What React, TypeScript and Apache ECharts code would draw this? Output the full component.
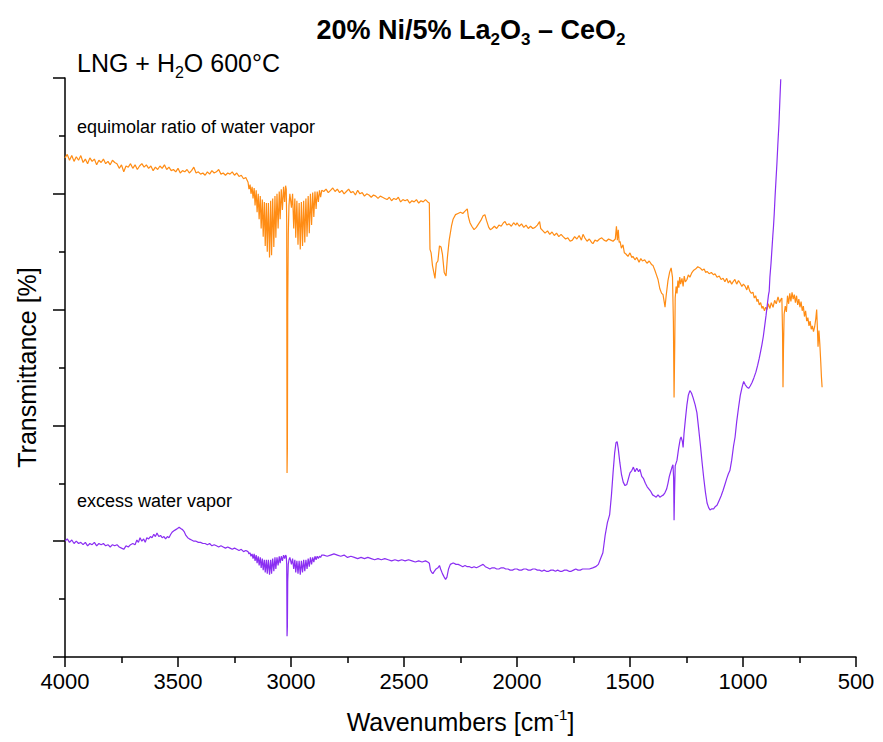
import React, { useEffect, useRef } from "react";
import * as echarts from "echarts";

const FONT = "'Liberation Sans', Arial, Helvetica, sans-serif";

const titleParts = { a: "20% Ni/5% La", b: "2", c: "O", d: "3", e: " – CeO", f: "2" };
const conditionText = { a: "LNG + H", b: "2", c: "O 600°C" };
const equimolarLabel = "equimolar ratio of water vapor";
const excessLabel = "excess water vapor";
const xAxisTitle = { a: "Wavenumbers [cm", sup: "-1", b: "]" };
const yAxisTitle = "Transmittance [%]";

const xMin = 500;
const xMax = 4000;
const xStep = 500;
const yMin = 0;
const yMax = 50;
const yStep = 10;

// [wavenumber cm-1, transmittance (arbitrary offset units)]
const equimolarSpectrum: [number, number][] = [
  [4000, 43.1], [3990, 43.4], [3980, 42.9], [3970, 43.3], [3960, 42.8], [3950, 43.2], [3940, 42.9], [3930, 43.3],
  [3920, 42.7], [3910, 43.0], [3900, 42.6], [3890, 43.1], [3880, 42.8], [3870, 43.0], [3860, 42.5], [3850, 42.9],
  [3840, 42.7], [3830, 43.0], [3820, 42.6], [3810, 42.8], [3800, 42.5], [3790, 42.9], [3780, 42.7], [3770, 42.6],
  [3760, 42.2], [3750, 42.5], [3740, 41.9], [3730, 42.4], [3720, 42.3], [3710, 42.6], [3700, 42.2], [3690, 42.5],
  [3680, 42.1], [3670, 42.4], [3660, 42.6], [3650, 42.3], [3640, 42.5], [3630, 42.2], [3620, 42.4], [3610, 42.0],
  [3600, 42.3], [3590, 42.1], [3580, 42.4], [3570, 42.2], [3560, 42.5], [3550, 42.1], [3540, 42.3], [3530, 42.0],
  [3520, 42.1], [3510, 41.9], [3500, 42.2], [3490, 41.8], [3480, 42.0], [3470, 41.9], [3460, 42.1], [3450, 41.8],
  [3440, 42.0], [3430, 42.3], [3420, 41.8], [3410, 41.9], [3400, 41.7], [3390, 41.8], [3380, 41.6], [3370, 41.9],
  [3360, 41.7], [3350, 42.0], [3340, 41.8], [3330, 41.9], [3320, 42.1], [3310, 41.7], [3300, 41.8], [3290, 41.6],
  [3280, 41.8], [3270, 41.7], [3260, 41.9], [3250, 41.6], [3240, 41.8], [3230, 41.5], [3220, 41.6], [3210, 41.3],
  [3200, 41.4], [3190, 41.0],
  [3186, 40.4], [3181, 40.8], [3177, 40.0], [3172, 40.6], [3168, 39.6], [3163, 40.5], [3159, 39.0], [3154, 40.3],
  [3150, 38.4], [3145, 40.0], [3141, 37.8], [3136, 39.8], [3132, 37.0], [3127, 39.5], [3123, 36.3], [3118, 39.3],
  [3114, 35.5], [3109, 39.2], [3105, 35.0], [3100, 39.2], [3095, 34.5], [3090, 39.4], [3086, 34.7], [3081, 39.6],
  [3076, 35.4], [3071, 39.8], [3067, 36.2], [3062, 40.0], [3057, 37.0], [3052, 40.2], [3048, 37.8], [3043, 40.4],
  [3038, 38.6], [3033, 40.6], [3028, 39.3], [3024, 40.7],
  [3021, 40.4], [3019, 37.5], [3017.5, 15.9], [3016, 18.0], [3014.5, 30.5], [3012, 36.5], [3009, 39.0], [3005, 40.0],
  [2998, 38.8], [2993, 40.0], [2988, 37.0], [2983, 39.6], [2979, 36.2], [2974, 39.4], [2969, 35.6], [2964, 39.2],
  [2959, 35.2], [2954, 39.3], [2949, 35.5], [2944, 39.4], [2939, 35.8], [2934, 39.6], [2929, 36.3], [2924, 39.8],
  [2919, 36.6], [2914, 40.0], [2909, 37.3], [2904, 40.1], [2899, 38.0], [2894, 40.2], [2889, 38.7], [2884, 40.2],
  [2879, 39.3], [2874, 40.3], [2869, 39.7], [2864, 40.3],
  [2855, 40.2], [2845, 40.4], [2835, 40.1], [2825, 40.3], [2815, 40.5], [2805, 40.2], [2795, 40.4], [2785, 40.1],
  [2775, 40.3], [2765, 40.0], [2755, 40.2], [2745, 40.4], [2735, 40.1], [2725, 40.2], [2715, 39.9], [2705, 40.3],
  [2695, 40.0], [2685, 40.1], [2675, 39.8], [2665, 40.0], [2655, 39.9], [2645, 39.7], [2635, 39.9], [2625, 39.8],
  [2615, 39.6], [2605, 39.8], [2595, 39.7], [2585, 39.6], [2575, 39.5], [2565, 39.7], [2555, 39.4], [2545, 39.6],
  [2535, 39.5], [2525, 39.7], [2515, 39.3], [2505, 39.5], [2495, 39.4], [2485, 39.5], [2475, 39.2], [2465, 39.4],
  [2455, 39.3], [2445, 39.5], [2435, 39.2], [2425, 39.4], [2415, 39.3], [2405, 39.5], [2395, 39.3], [2388, 39.2],
  [2385, 35.2], [2380, 34.9], [2374, 33.8], [2363, 32.7], [2357, 34.0], [2350, 34.2], [2343, 35.5], [2336, 35.4],
  [2330, 34.8], [2322, 33.2], [2314, 32.9], [2308, 34.5], [2300, 36.0], [2290, 37.2], [2283, 37.8], [2272, 38.2],
  [2261, 38.3], [2250, 38.4], [2240, 38.3], [2230, 38.5], [2220, 38.7], [2215, 38.0], [2208, 37.5], [2200, 37.2],
  [2190, 36.9], [2180, 37.1], [2170, 37.4], [2160, 37.7], [2150, 38.1], [2142, 38.2], [2135, 37.7], [2125, 37.1],
  [2118, 36.9], [2110, 37.0], [2100, 37.2], [2090, 37.0], [2080, 37.3], [2070, 37.2], [2060, 37.5], [2053, 37.6],
  [2045, 37.3], [2035, 37.4], [2025, 37.2], [2015, 37.5], [2005, 37.3], [2000, 37.5], [1990, 37.2], [1980, 37.4],
  [1970, 37.1], [1960, 37.3], [1950, 37.0], [1940, 37.2], [1930, 37.0], [1920, 37.1], [1910, 37.3], [1900, 37.6],
  [1895, 37.0], [1885, 36.8], [1876, 36.6], [1865, 36.8], [1855, 36.5], [1845, 36.7], [1835, 36.4], [1825, 36.6],
  [1815, 36.3], [1805, 36.5], [1796, 36.3], [1785, 36.1], [1775, 36.2], [1765, 35.9], [1755, 36.0], [1745, 36.3],
  [1735, 36.1], [1725, 36.4], [1715, 36.0], [1708, 36.5], [1700, 36.2], [1690, 35.9], [1680, 36.1], [1670, 35.8],
  [1664, 35.7], [1655, 36.0], [1645, 35.9], [1635, 36.1], [1625, 36.2], [1615, 36.0], [1605, 35.9], [1595, 36.1],
  [1585, 36.0], [1575, 35.9], [1565, 36.1], [1560, 37.2], [1556, 36.0], [1552, 36.9], [1548, 35.8], [1544, 35.9],
  [1538, 35.3], [1531, 35.6], [1525, 34.9], [1518, 34.8], [1509, 34.6], [1500, 34.9], [1492, 34.5], [1487, 34.6],
  [1478, 34.3], [1470, 34.5], [1460, 34.1], [1452, 34.4], [1445, 34.2], [1435, 34.3], [1425, 34.0], [1415, 34.2],
  [1405, 33.9], [1398, 33.8], [1390, 33.4], [1383, 33.0], [1376, 32.6], [1368, 31.8], [1360, 31.4], [1354, 31.3],
  [1348, 30.6], [1345, 30.2], [1340, 31.2], [1332, 32.5], [1325, 33.2], [1318, 33.6], [1312, 32.8], [1308, 29.0],
  [1305, 22.4], [1302, 27.0], [1300, 31.0], [1296, 32.0], [1292, 31.4], [1288, 32.5], [1284, 31.9], [1280, 32.8],
  [1276, 32.2], [1270, 32.7], [1265, 32.0], [1260, 32.9], [1255, 32.4], [1248, 32.6], [1242, 33.0], [1235, 32.8],
  [1226, 33.2], [1218, 33.4], [1210, 33.5], [1200, 33.7], [1190, 33.6], [1180, 33.4], [1172, 33.5], [1165, 33.2],
  [1159, 33.3], [1150, 33.1], [1140, 33.2], [1130, 33.0], [1124, 33.1], [1115, 32.8], [1105, 32.9], [1097, 32.6],
  [1088, 32.7], [1080, 32.4], [1072, 32.7], [1065, 32.3], [1058, 32.5], [1050, 32.2], [1044, 32.4], [1036, 32.6],
  [1028, 32.2], [1020, 32.5], [1013, 32.3], [1005, 32.0], [998, 32.2], [990, 32.0], [983, 31.7], [978, 32.1],
  [970, 31.6], [963, 31.4], [956, 31.5], [950, 31.0], [944, 31.2], [938, 30.7], [934, 30.9], [928, 30.4],
  [922, 30.6], [916, 30.1], [912, 30.3], [905, 29.9], [900, 30.2], [894, 30.0], [888, 30.5], [881, 30.1],
  [875, 30.6], [867, 30.2], [860, 30.8], [853, 30.5], [845, 31.1], [838, 30.6], [832, 30.9], [828, 31.0],
  [825, 28.0], [823, 23.3], [821, 26.5], [818, 29.6], [813, 30.3], [808, 29.8], [803, 31.2], [798, 30.5],
  [793, 31.4], [788, 30.7], [783, 31.5], [778, 30.9], [773, 31.3], [768, 30.6], [763, 31.2], [758, 30.4],
  [753, 30.9], [748, 30.2], [743, 30.7], [738, 29.9], [733, 30.3], [728, 29.4], [723, 29.9], [718, 29.0],
  [713, 29.3], [708, 28.6], [703, 29.0], [698, 28.3], [693, 28.6], [688, 28.1], [683, 28.5], [678, 29.2],
  [674, 30.0], [671, 28.5], [668, 26.8], [664, 28.2], [660, 27.0], [656, 25.5], [653, 24.2], [650, 23.3],
];

const excessSpectrum: [number, number][] = [
  [4000, 10.0], [3990, 10.2], [3980, 9.9], [3970, 10.1], [3960, 9.8], [3950, 10.0], [3940, 9.8], [3930, 9.9],
  [3920, 9.7], [3910, 9.9], [3900, 9.6], [3890, 9.8], [3880, 9.7], [3870, 9.9], [3860, 9.6], [3850, 9.8],
  [3840, 9.7], [3830, 9.8], [3820, 9.6], [3810, 9.7], [3800, 9.5], [3790, 9.7], [3780, 9.6], [3770, 9.7],
  [3760, 9.5], [3750, 9.4], [3740, 9.3], [3730, 9.6], [3720, 9.5], [3710, 9.7], [3700, 9.8], [3690, 9.7],
  [3682, 10.1], [3675, 9.9], [3668, 10.3], [3660, 10.0], [3652, 10.2], [3645, 9.9], [3638, 10.3], [3630, 10.2],
  [3622, 10.4], [3615, 10.3], [3607, 10.6], [3600, 10.4], [3593, 10.7], [3585, 10.4], [3577, 10.5], [3570, 10.3],
  [3562, 10.4], [3555, 10.2], [3547, 10.4], [3540, 10.3], [3532, 10.6], [3525, 10.8], [3518, 10.9], [3510, 11.0],
  [3502, 11.1], [3495, 11.2], [3488, 11.1], [3480, 11.0], [3472, 10.8], [3465, 10.5], [3457, 10.3], [3450, 10.2],
  [3440, 10.1], [3430, 10.0], [3420, 10.0], [3410, 9.9], [3400, 9.9], [3390, 9.8], [3380, 9.8], [3370, 9.7],
  [3360, 9.8], [3350, 9.6], [3340, 9.7], [3330, 9.6], [3320, 9.5], [3310, 9.6], [3300, 9.5], [3290, 9.4],
  [3280, 9.5], [3270, 9.4], [3260, 9.3], [3250, 9.4], [3240, 9.3], [3230, 9.2], [3220, 9.3], [3210, 9.1],
  [3200, 9.2], [3190, 9.1],
  [3186, 8.9], [3181, 9.0], [3177, 8.7], [3172, 8.9], [3168, 8.5], [3163, 8.9], [3159, 8.3], [3154, 8.8],
  [3150, 8.1], [3145, 8.7], [3141, 7.9], [3136, 8.6], [3132, 7.7], [3127, 8.5], [3123, 7.5], [3118, 8.4],
  [3114, 7.3], [3109, 8.4], [3105, 7.2], [3100, 8.4], [3095, 7.1], [3090, 8.4], [3086, 7.2], [3081, 8.5],
  [3076, 7.4], [3071, 8.6], [3067, 7.6], [3062, 8.6], [3057, 7.9], [3052, 8.7], [3048, 8.1], [3043, 8.7],
  [3038, 8.3], [3033, 8.8], [3028, 8.5], [3024, 8.8],
  [3021, 8.7], [3019, 8.0], [3017.5, 1.8], [3016, 2.6], [3014.5, 6.5], [3012, 8.0], [3009, 8.4], [3005, 8.6],
  [2998, 8.0], [2993, 8.5], [2988, 7.6], [2983, 8.4], [2979, 7.3], [2974, 8.3], [2969, 7.2], [2964, 8.3],
  [2959, 7.1], [2954, 8.3], [2949, 7.3], [2944, 8.4], [2939, 7.4], [2934, 8.4], [2929, 7.6], [2924, 8.5],
  [2919, 7.8], [2914, 8.6], [2909, 8.0], [2904, 8.6], [2899, 8.2], [2894, 8.7], [2889, 8.4], [2884, 8.7],
  [2879, 8.5], [2874, 8.7], [2869, 8.6], [2864, 8.8],
  [2855, 8.8], [2840, 8.7], [2825, 8.8], [2810, 8.9], [2795, 8.8], [2780, 8.7], [2765, 8.8], [2750, 8.6],
  [2735, 8.7], [2720, 8.6], [2705, 8.5], [2690, 8.6], [2675, 8.5], [2660, 8.6], [2645, 8.5], [2630, 8.4],
  [2615, 8.5], [2600, 8.4], [2585, 8.5], [2570, 8.4], [2555, 8.3], [2540, 8.4], [2525, 8.3], [2510, 8.4],
  [2495, 8.3], [2480, 8.4], [2465, 8.3], [2450, 8.2], [2435, 8.3], [2420, 8.2], [2405, 8.3], [2395, 8.2],
  [2388, 8.1], [2383, 7.5], [2377, 7.3], [2372, 7.2], [2366, 7.4], [2358, 7.6], [2350, 7.7], [2343, 7.9],
  [2338, 7.6], [2330, 7.2], [2322, 6.9], [2316, 6.7], [2310, 6.9], [2303, 7.6], [2295, 8.0], [2285, 8.1],
  [2279, 8.1], [2270, 8.0], [2260, 8.0], [2250, 7.9], [2240, 7.8], [2230, 7.9], [2220, 7.8], [2210, 7.8],
  [2200, 7.7], [2190, 7.8], [2180, 7.7], [2170, 7.8], [2160, 7.9], [2150, 8.0], [2140, 7.8], [2130, 7.7],
  [2120, 7.6], [2110, 7.7], [2100, 7.7], [2090, 7.6], [2080, 7.6], [2070, 7.7], [2060, 7.7], [2050, 7.6],
  [2040, 7.6], [2030, 7.5], [2020, 7.5], [2010, 7.6], [2000, 7.6], [1990, 7.5], [1980, 7.5], [1970, 7.6],
  [1960, 7.6], [1950, 7.5], [1940, 7.5], [1930, 7.6], [1920, 7.6], [1910, 7.5], [1900, 7.5], [1890, 7.4],
  [1880, 7.5], [1870, 7.4], [1860, 7.4], [1850, 7.5], [1840, 7.5], [1830, 7.4], [1820, 7.5], [1810, 7.4],
  [1800, 7.4], [1790, 7.5], [1780, 7.5], [1770, 7.4], [1760, 7.4], [1750, 7.5], [1740, 7.6], [1730, 7.5],
  [1720, 7.5], [1710, 7.6], [1700, 7.6], [1690, 7.6], [1680, 7.6], [1665, 7.7], [1652, 7.8], [1640, 8.0],
  [1630, 8.5], [1620, 9.0], [1610, 10.5], [1600, 11.6], [1590, 12.3], [1582, 14.0], [1575, 15.9], [1568, 17.6],
  [1562, 18.5], [1557, 18.6], [1552, 18.0], [1545, 16.8], [1538, 15.8], [1530, 15.1], [1522, 14.8], [1514, 14.9],
  [1507, 15.4], [1500, 15.9], [1492, 16.1], [1485, 16.4], [1478, 16.0], [1470, 16.3], [1462, 16.0], [1456, 16.2],
  [1448, 15.6], [1440, 15.4], [1432, 15.0], [1424, 14.7], [1416, 14.5], [1408, 14.3], [1400, 14.0], [1392, 13.9],
  [1384, 13.8], [1376, 14.0], [1368, 13.8], [1360, 13.9], [1352, 14.0], [1345, 14.2], [1338, 14.5], [1332, 15.0],
  [1326, 15.6], [1320, 16.0], [1314, 16.4], [1310, 16.6], [1307, 15.5], [1305, 11.8], [1303, 14.0], [1300, 16.5],
  [1292, 17.0], [1285, 18.0], [1278, 18.8], [1274, 19.0], [1268, 18.6], [1265, 18.1], [1261, 19.3], [1255, 20.5],
  [1248, 21.8], [1242, 22.6], [1235, 23.0], [1228, 22.8], [1221, 22.4], [1212, 21.8], [1204, 21.1], [1195, 19.5],
  [1188, 18.2], [1181, 16.8], [1174, 15.5], [1166, 14.2], [1159, 13.3], [1152, 12.9], [1146, 12.7], [1138, 12.8],
  [1130, 12.8], [1122, 13.0], [1115, 13.1], [1106, 13.5], [1097, 13.9], [1088, 14.4], [1080, 14.9], [1072, 15.4],
  [1065, 15.8], [1058, 16.1], [1050, 17.0], [1042, 18.2], [1035, 19.0], [1028, 20.3], [1020, 21.5], [1012, 22.6],
  [1004, 23.3], [997, 23.8], [990, 23.5], [982, 23.3], [975, 23.2], [968, 23.4], [960, 23.7], [952, 24.1],
  [943, 24.6], [935, 25.2], [928, 25.8], [922, 26.4], [916, 27.0], [910, 27.7], [904, 28.6], [898, 29.5],
  [892, 30.5], [887, 31.3], [884, 31.6], [881, 32.8], [876, 34.0], [872, 35.2], [868, 36.4], [865, 37.2],
  [862, 38.2], [858, 39.8], [854, 41.2], [850, 42.6], [846, 44.2], [841, 46.0], [837, 48.0], [833, 49.9],
];

const ORANGE = "#FF8C14";
const PURPLE = "#8A2EF2";

export default function App() {
  const ref = useRef<HTMLDivElement>(null);

  useEffect(() => {
    document.body.style.margin = "0";
    const chart = echarts.init(ref.current!, null, { renderer: "svg" });
    const axisLineStyle = { color: "#000", width: 1.5 };
    chart.setOption({
      animation: false,
      backgroundColor: "#ffffff",
      grid: { left: 65, right: 27, top: 78, bottom: 85, containLabel: false, outerBoundsMode: "none" },
      xAxis: {
        type: "value",
        min: xMin,
        max: xMax,
        interval: xStep,
        inverse: true,
        axisLine: { show: true, lineStyle: axisLineStyle },
        axisTick: { show: true, inside: false, length: 10, lineStyle: axisLineStyle },
        minorTick: { show: true, splitNumber: 2, length: 6, lineStyle: axisLineStyle },
        splitLine: { show: false },
        axisLabel: {
          color: "#000",
          fontSize: 22,
          fontFamily: FONT,
          margin: 13,
          formatter: (v: number) => String(v),
        },
        name: `{a|${xAxisTitle.a}}{s|${xAxisTitle.sup}}{a|${xAxisTitle.b}}`,
        nameLocation: "middle",
        nameGap: 50,
        nameTextStyle: {
          rich: {
            a: { fontSize: 25, fontFamily: FONT, color: "#000", lineHeight: 30 },
            s: { fontSize: 15, fontFamily: FONT, color: "#000", lineHeight: 15, verticalAlign: "top" },
          },
        },
      },
      yAxis: {
        type: "value",
        min: yMin,
        max: yMax,
        interval: yStep,
        axisLine: { show: true, lineStyle: axisLineStyle },
        axisTick: { show: true, inside: false, length: 12, lineStyle: axisLineStyle },
        minorTick: { show: true, splitNumber: 2, length: 6, lineStyle: axisLineStyle },
        splitLine: { show: false },
        axisLabel: { show: false },
        name: yAxisTitle,
        nameLocation: "middle",
        nameGap: 26,
        nameTextStyle: { fontSize: 25, fontFamily: FONT, color: "#000" },
      },
      series: [
        {
          name: equimolarLabel,
          type: "line",
          data: equimolarSpectrum,
          showSymbol: false,
          symbol: "none",
          lineStyle: { color: ORANGE, width: 1.2 },
          z: 2,
        },
        {
          name: excessLabel,
          type: "line",
          data: excessSpectrum,
          showSymbol: false,
          symbol: "none",
          lineStyle: { color: PURPLE, width: 1.2 },
          z: 3,
        },
      ],
      graphic: [
        {
          type: "text",
          x: 471,
          y: 30,
          style: {
            text: `{b|${titleParts.a}}{s|${titleParts.b}}{b|${titleParts.c}}{s|${titleParts.d}}{b|${titleParts.e}}{s|${titleParts.f}}`,
            align: "center",
            verticalAlign: "middle",
            rich: {
              b: { fontSize: 27, fontWeight: "bold", fontFamily: FONT, fill: "#000", lineHeight: 36 },
              s: { fontSize: 17, fontWeight: "bold", fontFamily: FONT, fill: "#000", lineHeight: 17, verticalAlign: "bottom" },
            },
          },
        },
        {
          type: "text",
          x: 77,
          y: 63,
          style: {
            text: `{a|${conditionText.a}}{s|${conditionText.b}}{a|${conditionText.c}}`,
            align: "left",
            verticalAlign: "middle",
            rich: {
              a: { fontSize: 25, fontFamily: FONT, fill: "#000", lineHeight: 34 },
              s: { fontSize: 16, fontFamily: FONT, fill: "#000", lineHeight: 16, verticalAlign: "bottom" },
            },
          },
        },
        {
          type: "text",
          x: 77,
          y: 127,
          style: { text: equimolarLabel, font: `18px ${FONT}`, fill: "#000", align: "left", verticalAlign: "middle" },
        },
        {
          type: "text",
          x: 77,
          y: 501,
          style: { text: excessLabel, font: `18px ${FONT}`, fill: "#000", align: "left", verticalAlign: "middle" },
        },
      ],
    });
    return () => chart.dispose();
  }, []);

  return <div ref={ref} style={{ width: 883, height: 742 }} />;
}
